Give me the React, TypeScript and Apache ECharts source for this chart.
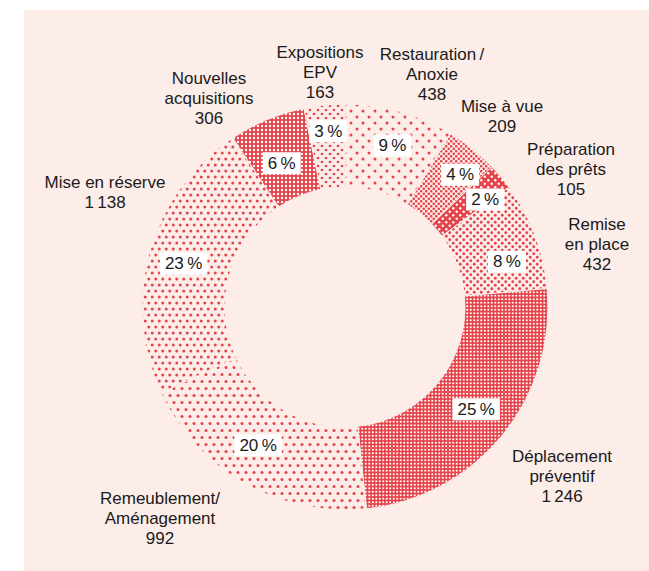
import React, { useEffect, useRef } from "react";
import * as echarts from "echarts";

// ---- data ----
const categories = [
  "Restauration\u2009/\nAnoxie",
  "Mise à vue",
  "Préparation\ndes prêts",
  "Remise\nen place",
  "Déplacement\npréventif",
  "Remeublement/\nAménagement",
  "Mise en réserve",
  "Nouvelles\nacquisitions",
  "Expositions\nEPV",
];
const values = [438, 209, 105, 432, 1246, 992, 1138, 306, 163];
const percents = [9, 4, 2, 8, 25, 20, 23, 6, 3];

// ---- layout (label placement) ----
const outerLabelPos: [number, number][] = [
  [432, 74],
  [502, 116],
  [571, 169],
  [597, 244],
  [562, 476],
  [160, 518],
  [105, 192],
  [209, 98],
  [320, 72],
];
const innerLabelShift: [number, number][] = [
  [3, -3],
  [12, -4],
  [14, -2],
  [8, 13],
  [4, -2],
  [-6, -5],
  [-3, 1],
  [0, 8],
  [0, -12],
];

const RED = "#e5444b";
const PINK = "#fcede9";
const WHITE = "#ffffff";
const FONT = "Liberation Sans, Arial, sans-serif";

function makePattern(
  w: number,
  h: number,
  bg: string,
  fg: string,
  dots: [number, number][],
  r: number
) {
  const c = document.createElement("canvas");
  c.width = w;
  c.height = h;
  const ctx = c.getContext("2d")!;
  ctx.fillStyle = bg;
  ctx.fillRect(0, 0, w, h);
  ctx.fillStyle = fg;
  for (const [x, y] of dots) {
    for (const ox of [-w, 0, w]) {
      for (const oy of [-h, 0, h]) {
        ctx.beginPath();
        ctx.arc(x + ox, y + oy, r, 0, Math.PI * 2);
        ctx.fill();
      }
    }
  }
  return {
    type: "pattern",
    image: c,
    repeat: "repeat",
    imageWidth: w,
    imageHeight: h,
  } as any;
}

function fmt(v: number) {
  if (v >= 1000) {
    return `${Math.floor(v / 1000)}\u2009${String(v % 1000).padStart(3, "0")}`;
  }
  return String(v);
}

export default function App() {
  const ref = useRef<HTMLDivElement>(null);
  useEffect(() => {
    if (!ref.current) return;
    const chart = echarts.init(ref.current, undefined, { renderer: "svg" });

    const patterns = [
      makePattern(12, 12, PINK, RED, [[3, 3], [9, 9]], 1.5), // Restauration
      makePattern(5, 5, PINK, RED, [[1.25, 1.25], [3.75, 3.75]], 1.3), // Mise à vue
      makePattern(7, 7, RED, WHITE, [[1.75, 1.75], [5.25, 5.25]], 1.2), // Préparation
      makePattern(7, 7, PINK, RED, [[1.75, 1.75], [5.25, 5.25]], 1.4), // Remise
      makePattern(7, 7, RED, WHITE, [[1.75, 1.75], [5.25, 1.75], [1.75, 5.25], [5.25, 5.25]], 1.05), // Déplacement
      makePattern(8, 14, PINK, RED, [[2, 3.5], [6, 10.5]], 1.5), // Remeublement
      makePattern(7, 12, PINK, RED, [[1.75, 3], [5.25, 9]], 1.5), // Réserve
      makePattern(8, 8, RED, WHITE, [[2, 2], [6, 2], [2, 6], [6, 6]], 1.2), // Nouvelles
      makePattern(8, 8, PINK, RED, [[2, 2], [6, 6]], 1.35), // Expositions
    ];

    const data = values.map((v, i) => ({
      value: v,
      name: categories[i],
      itemStyle: { color: patterns[i] },
    }));
    const dataOuter = values.map((v, i) => ({ value: v, name: categories[i] }));

    chart.setOption({
      animation: false,
      backgroundColor: "transparent",
      series: [
        {
          type: "pie",
          center: [345, 307],
          radius: [120, 203],
          startAngle: 90,
          clockwise: true,
          avoidLabelOverlap: false,
          silent: true,
          data,
          itemStyle: { borderColor: PINK, borderWidth: 1 },
          label: {
            show: true,
            position: "inside",
            formatter: (p: any) => `${percents[p.dataIndex]}\u2009%`,
            backgroundColor: WHITE,
            padding: [2, 5, 1, 5],
            color: "#1a1a1a",
            fontSize: 17,
            lineHeight: 19,
            fontFamily: FONT,
          },
          labelLine: { show: false },
          labelLayout: (p: any) => ({
            dx: innerLabelShift[p.dataIndex][0],
            dy: innerLabelShift[p.dataIndex][1],
          }),
          emphasis: { disabled: true },
        },
        {
          type: "pie",
          center: [345, 307],
          radius: [120, 203],
          startAngle: 90,
          clockwise: true,
          avoidLabelOverlap: false,
          silent: true,
          data: dataOuter,
          itemStyle: { color: "rgba(0,0,0,0)", borderWidth: 0 },
          label: {
            show: true,
            position: "outside",
            formatter: (p: any) => `${categories[p.dataIndex]}\n${fmt(values[p.dataIndex])}`,
            color: "#1a1a1a",
            fontSize: 17,
            lineHeight: 20,
            align: "center",
            fontFamily: FONT,
          },
          labelLine: { show: false },
          labelLayout: (p: any) => ({
            x: outerLabelPos[p.dataIndex][0],
            y: outerLabelPos[p.dataIndex][1],
            align: "center",
            verticalAlign: "middle",
          }),
          emphasis: { disabled: true },
        },
      ],
    });
    return () => chart.dispose();
  }, []);

  return (
    <>
      <div
        style={{
          position: "absolute",
          left: 24,
          top: 10,
          width: 625,
          height: 561,
          background: PINK,
        }}
      />
      <div
        ref={ref}
        style={{ position: "absolute", left: 0, top: 0, width: 649, height: 571 }}
      />
    </>
  );
}
